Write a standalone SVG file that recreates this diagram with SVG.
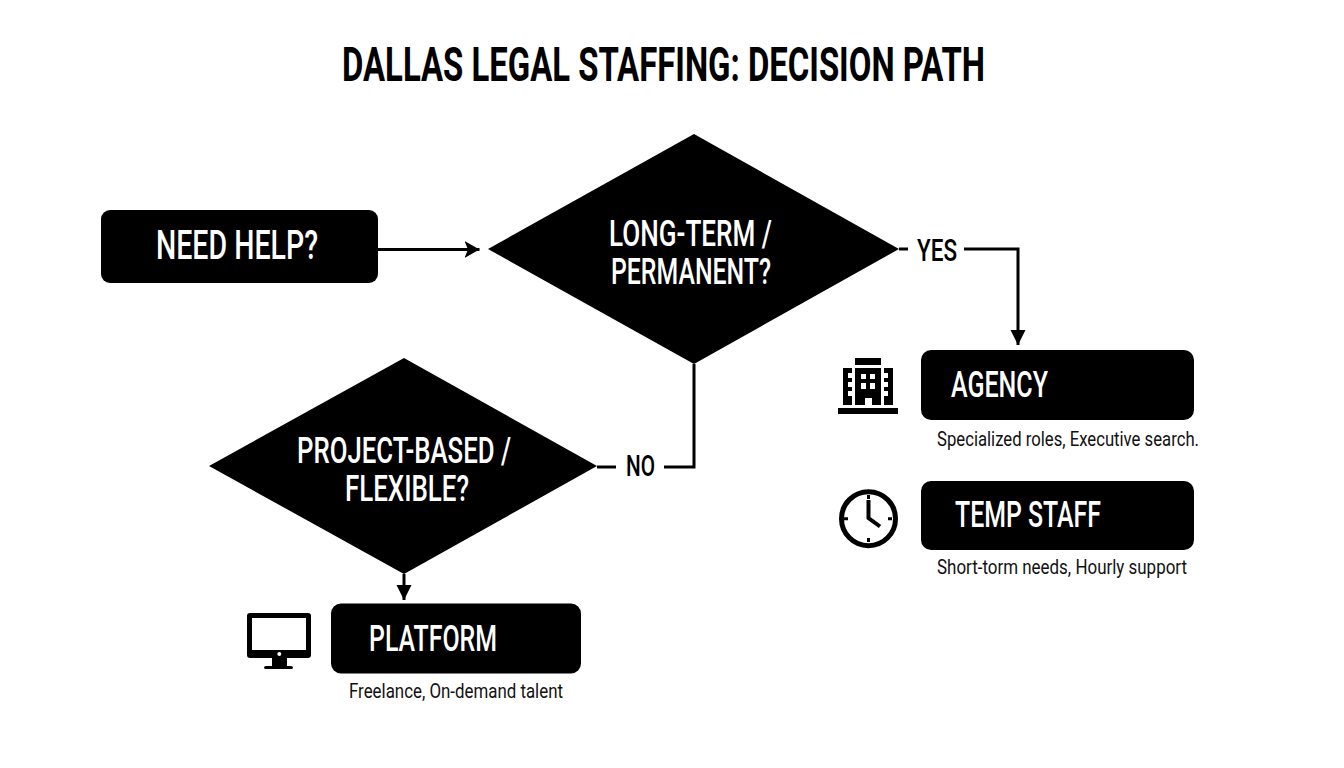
<svg xmlns="http://www.w3.org/2000/svg" width="1344" height="768" viewBox="0 0 1344 768">
<style>
text{font-family:Roboto,"Liberation Sans",Arial,sans-serif}
.h{font-weight:700;fill:#000}
.n{font-weight:500;fill:#000}
.w{font-weight:500;fill:#fff}
.c{fill:#111}
.k{fill:#000}
.l{fill:none;stroke:#000;stroke-width:3}
.i{fill:none;stroke:#000}
</style>
<defs>
<marker id="a" markerUnits="userSpaceOnUse" markerWidth="16" markerHeight="18" refX="15" refY="9" orient="auto"><path d="M0 0.500L15 9L0 17.500L3.500 9Z" fill="#000"/></marker>
<marker id="b" markerUnits="userSpaceOnUse" markerWidth="16" markerHeight="18" refX="15" refY="9" orient="auto"><path d="M0 1.500L15 9L0 16.500Z" fill="#000"/></marker>
</defs>
<rect width="1344" height="768" fill="#fff"/>
<text id="title" class="h" x="663.500" y="81" text-anchor="middle" font-size="48" textLength="643" lengthAdjust="spacingAndGlyphs">DALLAS LEGAL STAFFING: DECISION PATH</text>
<g id="connectors">
<path class="l" d="M378 249.500H479.500" marker-end="url(#a)"/>
<path class="l" d="M899 249H908"/>
<path class="l" d="M964 249H1018V345" marker-end="url(#b)"/>
<path class="l" d="M694 364V467H664"/>
<path class="l" d="M597 467H616"/>
<path class="l" d="M404 574V600" marker-end="url(#b)"/>
</g>
<g id="need-help">
<rect class="k" x="101" y="210" width="277" height="73" rx="9"/>
<text class="w" x="156" y="259" font-size="40" textLength="162" lengthAdjust="spacingAndGlyphs">NEED HELP?</text>
</g>
<g id="long-term">
<path class="k" d="M488 249L694 134L899 249L694 364Z"/>
<text class="w" x="609" y="246" font-size="36" textLength="163" lengthAdjust="spacingAndGlyphs">LONG-TERM /</text>
<text class="w" x="611" y="284" font-size="36" textLength="160" lengthAdjust="spacingAndGlyphs">PERMANENT?</text>
</g>
<g id="project-based">
<path class="k" d="M209 466L404 358L597 466L404 574Z"/>
<text class="w" x="297" y="463" font-size="36" textLength="214" lengthAdjust="spacingAndGlyphs">PROJECT-BASED /</text>
<text class="w" x="345" y="501" font-size="36" textLength="124" lengthAdjust="spacingAndGlyphs">FLEXIBLE?</text>
</g>
<g id="yes"><text class="n" x="917" y="261" font-size="32" textLength="40" lengthAdjust="spacingAndGlyphs">YES</text></g>
<g id="no"><text class="n" x="626" y="476" font-size="30" textLength="29" lengthAdjust="spacingAndGlyphs">NO</text></g>
<g id="agency">
<rect class="k" x="921" y="350" width="273" height="70" rx="10"/>
<text class="w" x="951" y="397" font-size="37" textLength="97" lengthAdjust="spacingAndGlyphs">AGENCY</text>
<text class="c" x="937" y="446" font-size="21" textLength="262" lengthAdjust="spacingAndGlyphs">Specialized roles, Executive search.</text>
</g>
<g id="agency-icon">
<path class="k" d="M855 358H881V365H855ZM838 408H898V414H838Z"/>
<path class="k" d="M843 368H852V373H848V378H852V382H848V387H852V391H848V396H852V405H843Z"/>
<path class="k" d="M893 368H884V373H888V378H884V382H888V387H884V391H888V396H884V405H893Z"/>
<path class="k" fill-rule="evenodd" d="M855 368H881V405H872V398H865V405H855ZM861 374V379H866V374ZM870 374V379H875V374ZM861 383V389H866V383ZM870 383V389H875V383Z"/>
</g>
<g id="temp-staff">
<rect class="k" x="921" y="481" width="273" height="69" rx="10"/>
<text class="w" x="955" y="527" font-size="37" textLength="146" lengthAdjust="spacingAndGlyphs">TEMP STAFF</text>
<text class="c" x="937" y="574" font-size="21" textLength="250" lengthAdjust="spacingAndGlyphs">Short-torm needs, Hourly support</text>
</g>
<g id="clock-icon">
<circle class="i" cx="868.500" cy="518.700" r="27" stroke-width="5"/>
<path class="i" d="M868.500 500V518L880 526.500" stroke-width="4"/>
<path class="i" d="M868.500 495V499M868.500 538V542M844 518.700H848M888 518.700H892" stroke-width="3"/>
</g>
<g id="platform">
<rect class="k" x="331" y="603.500" width="250" height="70" rx="10"/>
<text class="w" x="369" y="651" font-size="37" textLength="128" lengthAdjust="spacingAndGlyphs">PLATFORM</text>
<text class="c" x="349" y="698" font-size="21" textLength="214" lengthAdjust="spacingAndGlyphs">Freelance, On-demand talent</text>
</g>
<g id="monitor-icon">
<path class="k" fill-rule="evenodd" d="M250 613H308Q311 613 311 616V655Q311 658 308 658H250Q247 658 247 655V616Q247 613 250 613ZM252 618V650H306V618Z"/>
<circle cx="279.300" cy="654" r="2" fill="#fff"/>
<path class="k" d="M272 658H287V666H291Q293 666 293 667.500T291 669H266Q264 669 264 667.500T266 666H272Z"/>
</g>
</svg>
